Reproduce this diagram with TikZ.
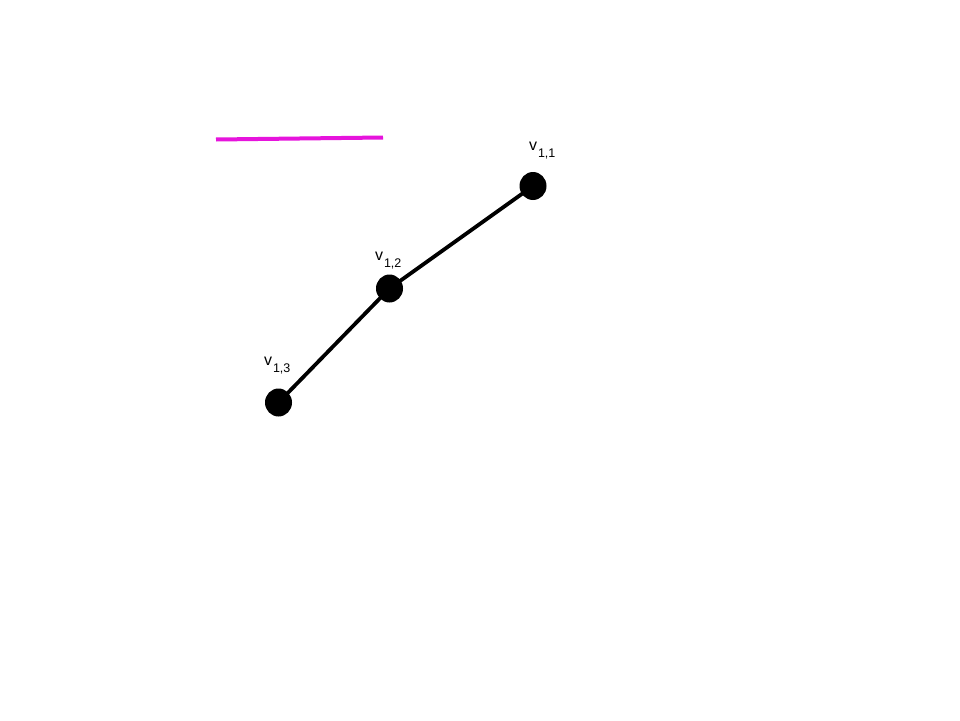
\documentclass[tikz,border=0pt]{standalone}
\usepackage{fontspec}
\setmainfont{Liberation Sans}
\usetikzlibrary{shapes.geometric}
\newcommand{\vsub}[1]{v\kern0.8pt\raisebox{-7.5pt}{\fontsize{12.5}{14}\selectfont #1}}
\begin{document}
\begin{tikzpicture}[x=1pt,y=-1pt,
  vert/.style={ellipse,fill=black,minimum width=27pt,minimum height=28pt,inner sep=0pt},
  lbl/.style={font=\fontsize{16}{18}\selectfont,inner sep=0pt,anchor=base west},
  edge/.style={line width=3.8pt,black}]
\useasboundingbox[fill=white] (0,0) rectangle (960,720);
\coordinate (m1) at (216,139.5);
\coordinate (m2) at (383,137.5);
\draw[line width=4pt,color={rgb,255:red,230;green,20;blue,220}] (m1) -- (m2);
\node[vert] (v11) at (533,186) {};
\node[vert] (v12) at (389.5,288.5) {};
\node[vert] (v13) at (278.5,402.5) {};
\draw[edge] (v11.center) -- (v12.center) -- (v13.center);
\node[lbl] (l11) at (529,150) {\vsub{1,1}};
\node[lbl] (l12) at (375,260) {\vsub{1,2}};
\node[lbl] (l13) at (264,365) {\vsub{1,3}};
\end{tikzpicture}
\end{document}
